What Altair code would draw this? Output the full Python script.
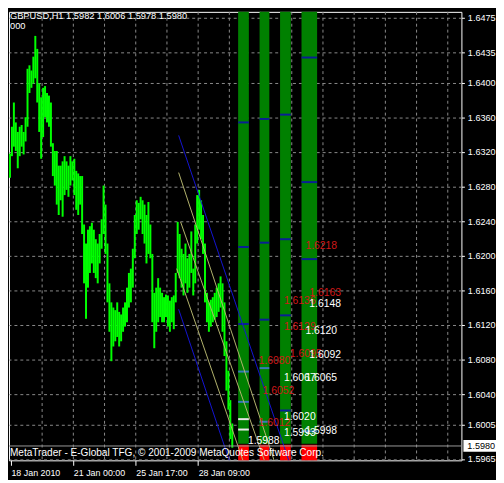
import altair as alt
import pandas as pd

# ---------------- data ----------------
header_text = "GBPUSD,H1  1.5982 1.6006 1.5978 1.5980"
sub_header = "000"
footer_text = "MetaTrader - E-Global TFG, \u00a9 2001-2009 MetaQuotes Software Corp."

price_ticks = [1.6475, 1.6435, 1.6400, 1.6360, 1.6320, 1.6280, 1.6240, 1.6200,
               1.6160, 1.6120, 1.6080, 1.6040, 1.6005, 1.5965]
time_tick_pos = [2, 66, 130, 194]
time_tick_labels = ["18 Jan 2010", "21 Jan 00:00", "25 Jan 17:00", "28 Jan 09:00"]
vgrid_pos = [34, 66, 98, 130, 162, 194, 226, 258, 290, 322, 354, 386, 418, 450]

bar_highs = [1.6318, 1.6349, 1.6377, 1.6354, 1.6343, 1.6349, 1.6351, 1.6343, 1.6360, 1.6416,
             1.6420, 1.6414, 1.6430, 1.6454, 1.6439, 1.6399, 1.6383, 1.6394, 1.6396, 1.6388,
             1.6385, 1.6377, 1.6330, 1.6321, 1.6321, 1.6304, 1.6304, 1.6309, 1.6315, 1.6309,
             1.6304, 1.6315, 1.6309, 1.6312, 1.6298, 1.6295, 1.6292, 1.6292, 1.6236, 1.6214,
             1.6230, 1.6234, 1.6238, 1.6230, 1.6219, 1.6214, 1.6225, 1.6242, 1.6281, 1.6259,
             1.6214, 1.6168, 1.6146, 1.6140, 1.6137, 1.6146, 1.6135, 1.6132, 1.6140, 1.6146,
             1.6163, 1.6180, 1.6185, 1.6208, 1.6247, 1.6264, 1.6261, 1.6268, 1.6264, 1.6259,
             1.6247, 1.6262, 1.6236, 1.6202, 1.6157, 1.6163, 1.6174, 1.6163, 1.6157, 1.6152,
             1.6155, 1.6154, 1.6148, 1.6152, 1.6154, 1.6180, 1.6239, 1.6225, 1.6208, 1.6202,
             1.6214, 1.6197, 1.6202, 1.6228, 1.6185, 1.6236, 1.6270, 1.6276, 1.6264, 1.6247,
             1.6214, 1.6157, 1.6146, 1.6149, 1.6152, 1.6157, 1.6163, 1.6168, 1.6176, 1.6168,
             1.6146, 1.6101, 1.6067, 1.6033, 1.6006]
bar_lows = [1.6290, 1.6315, 1.6326, 1.6321, 1.6301, 1.6315, 1.6326, 1.6317, 1.6332, 1.6349,
            1.6388, 1.6394, 1.6399, 1.6405, 1.6377, 1.6343, 1.6312, 1.6337, 1.6360, 1.6354,
            1.6349, 1.6326, 1.6292, 1.6281, 1.6259, 1.6247, 1.6264, 1.6245, 1.6270, 1.6276,
            1.6268, 1.6281, 1.6287, 1.6270, 1.6253, 1.6247, 1.6259, 1.6225, 1.6168, 1.6127,
            1.6163, 1.6180, 1.6191, 1.6180, 1.6174, 1.6168, 1.6191, 1.6208, 1.6225, 1.6202,
            1.6146, 1.6112, 1.6078, 1.6095, 1.6101, 1.6106, 1.6095, 1.6101, 1.6112, 1.6118,
            1.6123, 1.6140, 1.6146, 1.6163, 1.6197, 1.6225, 1.6230, 1.6242, 1.6225, 1.6214,
            1.6191, 1.6202, 1.6197, 1.6123, 1.6093, 1.6112, 1.6123, 1.6129, 1.6123, 1.6123,
            1.6129, 1.6118, 1.6112, 1.6123, 1.6115, 1.6146, 1.6180, 1.6174, 1.6163, 1.6154,
            1.6168, 1.6157, 1.6163, 1.6180, 1.6154, 1.6168, 1.6214, 1.6230, 1.6219, 1.6202,
            1.6146, 1.6123, 1.6112, 1.6118, 1.6123, 1.6126, 1.6129, 1.6135, 1.6140, 1.6112,
            1.6084, 1.6044, 1.6022, 1.5988, 1.5978]
bar_index = list(range(1, 1 + 2 * len(bar_highs), 2))

col_start = [235, 257, 278, 300]
col_end = [246, 267, 289, 316]
col_top = 1.64818
col_green_bottom = 1.59825
col_red_top = 1.59814
col_red_bottom = 1.59634

level_col = [0, 0, 0, 0, 0, 0, 0, 1, 1, 1, 1, 1, 2, 2, 2, 2, 3, 3, 3, 3]
level_price = [1.6354, 1.6210, 1.6121, 1.6066, 1.6031, 1.6011, 1.5999,
               1.6358, 1.6215, 1.6126, 1.6070, 1.6008,
               1.6363, 1.6219, 1.6131, 1.6021,
               1.6429, 1.6285, 1.6196, 1.5997]
level_kind = ["dark", "dark", "dark", "steel", "steel", "white", "white",
              "dark", "dark", "dark", "steel", "steel",
              "dark", "dark", "dark", "dark",
              "dark", "dark", "dark", "steel"]

line_x1 = [174, 174, 174, 172, 176]
line_p1 = [1.6339, 1.6138, 1.6296, 1.6185, 1.6239]
line_x2 = [287, 226, 272, 240, 262]
line_p2 = [1.5963, 1.5963, 1.5963, 1.5963, 1.5963]
line_kind = ["blue", "blue", "khaki", "khaki", "khaki"]

label_text = ["1.6218", "1.6163", "1.6136", "1.6129", "1.6080", "1.6095", "1.6052", "1.6012",
              "1.6148", "1.6120", "1.6092", "1.6067", "1.6065", "1.6020", "1.5993", "1.5998", "1.5988"]
label_x = [304, 308, 282, 282, 256, 288, 260, 256,
           308, 304, 308, 282, 304, 282, 282, 304, 245]
label_p = [1.6211, 1.6157, 1.6147, 1.6118, 1.6078, 1.6086, 1.6044, 1.6006,
           1.6144, 1.6113, 1.6085, 1.6059, 1.6058, 1.6013, 1.5995, 1.5997, 1.5986]
label_kind = ["red"] * 8 + ["white"] * 9

bid_price = 1.5980

# ---------------- chart ----------------
W, H = 458, 454
FONT = "Liberation Sans"
xscale = alt.Scale(domain=[0, 464], nice=False, zero=False)
yscale = alt.Scale(domain=[col_red_bottom, col_top], nice=False, zero=False)

label_expr = " : ".join(
    f"datum.value == {p} ? '{t}'" for p, t in zip(time_tick_pos, time_tick_labels)) + " : ''"
xaxis = alt.Axis(values=time_tick_pos, labelExpr=label_expr, grid=False, domain=False,
                 tickColor="white", tickSize=5, labelColor="white", labelFont=FONT,
                 labelFontSize=9, labelAlign="left", labelPadding=3, title=None,
                 labelFlush=False, labelOverlap=False)
yaxis = alt.Axis(orient="right", values=price_ticks, format=".4f", grid=True,
                 gridColor="#8a8a8a", gridDash=[3, 3], gridWidth=1, domain=False,
                 tickColor="white", tickSize=3, labelColor="white", labelFont=FONT,
                 labelFontSize=9.2, labelPadding=3, title=None, labelFlush=False,
                 labelOverlap=False)


def X(f):
    return alt.X(f, type="quantitative", scale=xscale, axis=xaxis)


def Y(f):
    return alt.Y(f, type="quantitative", scale=yscale, axis=yaxis)


bars_df = pd.DataFrame({"i": bar_index, "hi": bar_highs, "lo": bar_lows})
vgrid_df = pd.DataFrame({"i": vgrid_pos})
cols_df = pd.DataFrame({"x0": col_start, "x1": col_end,
                        "top": [col_top] * 4, "gb": [col_green_bottom] * 4,
                        "rt": [col_red_top] * 4, "rb": [col_red_bottom] * 4})
lev_df = pd.DataFrame({"x0": [col_start[c] for c in level_col],
                       "x1": [col_end[c] for c in level_col],
                       "p": level_price, "kind": level_kind})
lines_df = pd.DataFrame({"x1": line_x1, "p1": line_p1, "x2": line_x2, "p2": line_p2,
                         "kind": line_kind})
labels_df = pd.DataFrame({"x": label_x, "p": label_p, "t": label_text, "kind": label_kind})
bid_df = pd.DataFrame({"p": [bid_price], "lo": [bid_price - 0.00068], "hi": [bid_price + 0.00068],
                       "t": [f"{bid_price:.4f}"]})

vgrid = alt.Chart(vgrid_df).mark_rule(color="#8a8a8a", strokeDash=[3, 3], strokeWidth=1).encode(
    x=X("i"))

green_cols = alt.Chart(cols_df).mark_rect(color="#008000").encode(
    x=X("x0"), x2="x1", y=Y("top"), y2="gb")
red_cols = alt.Chart(cols_df).mark_rect(color="#ff0000").encode(
    x=X("x0"), x2="x1", y=Y("rt"), y2="rb")

level_layers = []
for kind, colr in [("dark", "#0a1e96"), ("steel", "#3a78b8"), ("white", "#e8e8e8")]:
    level_layers.append(
        alt.Chart(lev_df[lev_df.kind == kind]).mark_rule(strokeWidth=2, color=colr).encode(
            x=X("x0"), x2="x1", y=Y("p")))

price_bars = alt.Chart(bars_df).mark_rule(color="#00ff00", strokeWidth=2).encode(
    x=X("i"), y=Y("lo"), y2="hi")

line_layers = []
for kind, colr in [("blue", "#1414d2"), ("khaki", "#b4b46e")]:
    line_layers.append(
        alt.Chart(lines_df[lines_df.kind == kind]).mark_rule(strokeWidth=1, clip=True,
                                                            color=colr).encode(
            x=X("x1"), y=Y("p1"), x2="x2", y2="p2"))

bid_line = alt.Chart(bid_df).mark_rule(color="#9a9a9a", strokeWidth=1).encode(y=Y("p"))

label_layers = []
for kind, colr in [("red", "#d01818"), ("white", "#ffffff")]:
    label_layers.append(
        alt.Chart(labels_df[labels_df.kind == kind]).mark_text(
            font=FONT, fontSize=10.5, align="left", baseline="middle", color=colr).encode(
            x=X("x"), y=Y("p"), text="t:N"))

bid_box = alt.Chart(bid_df).mark_rect(color="white", clip=False).encode(
    x=alt.value(W + 2), x2=alt.value(W + 35), y=Y("lo"), y2="hi")
bid_text = alt.Chart(bid_df).mark_text(font=FONT, fontSize=9.2, align="left", baseline="middle",
                                       color="black", clip=False).encode(
    x=alt.value(W + 6), y=Y("p"), text="t:N")

texts_df = pd.DataFrame({"t": [header_text, sub_header, footer_text]})
header = alt.Chart(texts_df.iloc[[0]]).mark_text(font=FONT, fontSize=9.4, align="left",
                                                 baseline="top", color="white").encode(
    x=alt.value(1), y=alt.value(0), text="t:N")
sub = alt.Chart(texts_df.iloc[[1]]).mark_text(font=FONT, fontSize=9.4, align="left",
                                              baseline="top", color="white").encode(
    x=alt.value(1), y=alt.value(10), text="t:N")
footer = alt.Chart(texts_df.iloc[[2]]).mark_text(font=FONT, fontSize=10.2, align="left",
                                                 baseline="middle", color="white").encode(
    x=alt.value(1), y=alt.value(H - 7), text="t:N")

chart = alt.layer(
    vgrid, green_cols, red_cols, *level_layers, price_bars, *line_layers, bid_line,
    *label_layers, bid_box, bid_text, header, sub, footer
).properties(width=W, height=H).configure(
    background="black", padding=0
).configure_view(stroke="white", strokeWidth=1)

chart.save("out.html", embed_options={"renderer": "svg", "actions": False})
